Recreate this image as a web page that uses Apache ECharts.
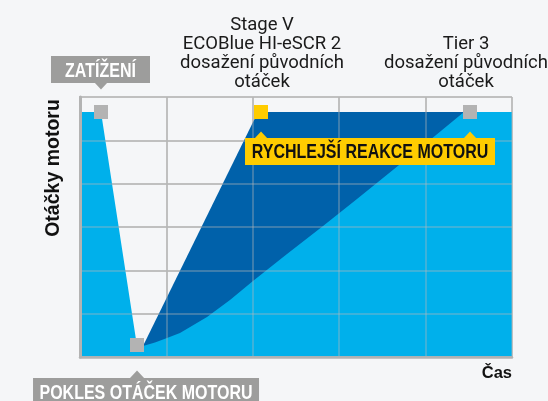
<!DOCTYPE html>
<html><head><meta charset="utf-8">
<script src="https://cdn.jsdelivr.net/npm/echarts@6/dist/echarts.min.js"></script>
<style>html,body{margin:0;padding:0;background:#f5f6f8}#c{width:548px;height:401px}</style>
</head><body><div id="c"></div>
<script>
// ---- data ----
const topLevel = 5.654;
const lightX = [0, 0.243, 0.66, 0.729, 0.868, 1.007, 1.157, 1.47, 1.736, 2.002, 2.396, 2.813, 3.206, 4.051, 4.444, 5];
const lightY = [topLevel, topLevel, 0.25, 0.254, 0.335, 0.439, 0.554, 0.923, 1.315, 1.754, 2.377, 3.023, 3.646, 5.008, topLevel, topLevel];
const darkX = [0.729, 2.06, 5];
const darkY = [0.254, topLevel, topLevel];
const markerX = [0.243, 0.66, 2.095, 4.514];
const markerY = [topLevel, 0.277, topLevel, topLevel];
const markerColors = ['#b3b3b3', '#b3b3b3', '#ffcc00', '#b3b3b3'];
const boxTexts = ['ZATÍŽENÍ', 'POKLES OTÁČEK MOTORU', 'RYCHLEJŠÍ REAKCE MOTORU'];
const boxAnchors = [0, 1, 2]; // which marker each box is attached to
const noteTexts = ['Stage V\nECOBlue HI-eSCR 2\ndosažení původních\notáček', 'Tier 3\ndosažení původních\notáček'];
const axisNames = ['Čas', 'Otáčky motoru'];
const xRange = [0, 5];
const yRange = [0, 6];

const pts = (xs, ys) => xs.map((x, i) => [x, ys[i]]);
const reg = "Roboto, 'Liberation Sans', sans-serif";
const bold = "'Liberation Sans', Arial, sans-serif";
const GRAYBOX = '#9d9d9c', YEL = '#ffcc00', BORDER = '#b3b3b3';

// box styling (offsets in px from the anchor marker)
const boxStyle = [
  { off: [-0.5, -42.5], w: 99, h: 27, bg: GRAYBOX, fg: '#fff', dy: 1.5 },
  { off: [9, 46.5], w: 226, h: 27, bg: GRAYBOX, fg: '#fff', dy: 2 },
  { off: [109, 39.5], w: 250, h: 27, bg: YEL, fg: '#111', dy: 0.5 }
];

function xa(extra) { return Object.assign({ type: 'value', min: xRange[0], max: xRange[1], interval: 1, axisLabel: { show: false }, axisTick: { show: false }, splitLine: { show: false }, axisLine: { show: false } }, extra); }
function ya(extra) { return Object.assign({ type: 'value', min: yRange[0], max: yRange[1], interval: 1, axisLabel: { show: false }, axisTick: { show: false }, splitLine: { show: false }, axisLine: { show: false } }, extra); }

const chart = echarts.init(document.getElementById('c'), null, { renderer: 'canvas' });
chart.setOption({
  backgroundColor: '#f5f6f8',
  animation: false,
  grid: { left: 80, top: 97, right: 36, bottom: 44 },
  xAxis: [
    xa({ position: 'bottom', z: 5, axisLine: { show: true, lineStyle: { color: BORDER, width: 2.5 } },
      splitLine: { show: true, lineStyle: { color: 'rgba(185,185,185,0.45)', width: 1.5 } },
      name: axisNames[0], nameLocation: 'end', nameGap: 0,
      nameTextStyle: { fontFamily: bold, fontWeight: 'bold', fontSize: 16.5, color: '#111', align: 'right', verticalAlign: 'top', padding: [8, 0, 0, 0] } }),
    xa({ position: 'top', z: 5, axisLine: { show: true, lineStyle: { color: BORDER, width: 1.5 } } }),
    xa({ position: 'bottom', z: 0, splitLine: { show: true, lineStyle: { color: '#b4b4b4', width: 1.5 } } })
  ],
  yAxis: [
    ya({ position: 'left', z: 5, axisLine: { show: true, lineStyle: { color: BORDER, width: 2 } },
      splitLine: { show: true, lineStyle: { color: 'rgba(185,185,185,0.45)', width: 1.5 } },
      name: axisNames[1], nameLocation: 'middle', nameGap: 16,
      nameTextStyle: { fontFamily: bold, fontWeight: 'bold', fontSize: 19.5, color: '#111', padding: [0, 0, 0, 118] } }),
    ya({ position: 'right', z: 5, axisLine: { show: true, lineStyle: { color: BORDER, width: 3 } } }),
    ya({ position: 'left', z: 0, splitLine: { show: true, lineStyle: { color: '#b4b4b4', width: 1.5 } } })
  ],
  series: [
    { type: 'line', name: 'Stage V', data: pts(darkX, darkY), symbol: 'none', lineStyle: { width: 0 }, areaStyle: { color: '#0061aa', opacity: 1, origin: 'start' }, z: 2 },
    { type: 'line', name: 'Tier 3', data: pts(lightX, lightY), symbol: 'none', lineStyle: { width: 0 }, areaStyle: { color: '#00b0eb', opacity: 1, origin: 'start' }, z: 3 },
    { type: 'scatter', name: 'pointers', z: 6, symbol: 'triangle', silent: true,
      data: [
        { value: [markerX[0], markerY[0]], symbolSize: [13, 7], symbolOffset: [0, -26], symbolRotate: 180, itemStyle: { color: GRAYBOX, opacity: 1 } },
        { value: [markerX[1], markerY[1]], symbolSize: [15, 8], symbolOffset: [0, 29.5], itemStyle: { color: GRAYBOX, opacity: 1 } },
        { value: [markerX[2], markerY[2]], symbolSize: [13, 7], symbolOffset: [0, 23], itemStyle: { color: YEL, opacity: 1 } },
        { value: [markerX[3], markerY[3]], symbolSize: [13, 7], symbolOffset: [0, 23], itemStyle: { color: YEL, opacity: 1 } }
      ] },
    { type: 'scatter', name: 'markers', z: 7, symbol: 'rect', symbolSize: 14,
      data: markerX.map((x, i) => ({ value: [x, markerY[i]], itemStyle: { color: markerColors[i], opacity: 1 } })) },
    { type: 'custom', name: 'boxes', z: 9, silent: true, clip: false,
      data: boxAnchors.map((m, i) => [markerX[m], markerY[m], i]),
      renderItem: function (params, api) {
        const p = api.coord([api.value(0), api.value(1)]);
        const i = api.value(2);
        const s = boxStyle[i];
        return {
          type: 'group', x: p[0] + s.off[0], y: p[1] + s.off[1],
          children: [
            { type: 'rect', shape: { x: -s.w / 2, y: -s.h / 2, width: s.w, height: s.h }, style: { fill: s.bg } },
            { type: 'text', x: 0, y: s.dy, scaleX: 0.8, style: { text: boxTexts[i], fill: s.fg, font: "bold 20px 'Liberation Sans', Arial, sans-serif", align: 'center', verticalAlign: 'middle' } }
          ]
        };
      } },
    { type: 'scatter', name: 'notes', z: 8, symbolSize: 1, itemStyle: { color: 'rgba(0,0,0,0)', opacity: 1 }, silent: true,
      label: { show: true, position: 'inside', fontFamily: reg, fontSize: 18.5, lineHeight: 19, color: '#1a1a1a', align: 'center', verticalAlign: 'middle' },
      data: [
        { value: [markerX[2], markerY[2]], label: { formatter: noteTexts[0], offset: [1, -58] } },
        { value: [markerX[3], markerY[3]], label: { formatter: noteTexts[1], offset: [-4, -49] } }
      ] }
  ]
});
</script></body></html>
